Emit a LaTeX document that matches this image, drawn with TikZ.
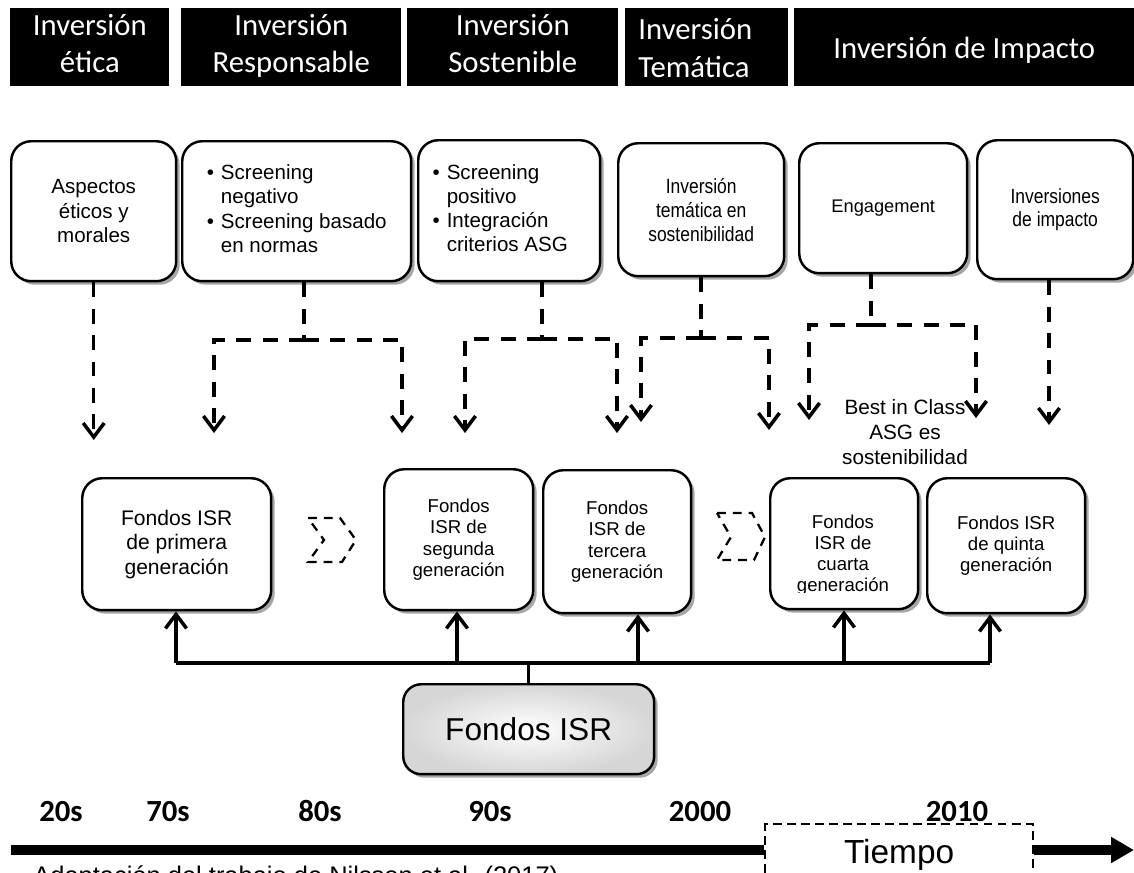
\documentclass[tikz,border=0pt]{standalone}
\usepackage{fontspec}
\setmainfont{Liberation Sans}
\newfontfamily\calib{Carlito}
\newfontfamily\condf[FakeStretch=0.85]{Liberation Sans}
\usetikzlibrary{arrows.meta,shadows}
\tikzset{
  hdr/.style={fill=black, text=white, font=\calib\fontsize{17.5}{21.5}\selectfont, align=center, anchor=north west, inner sep=0pt,
    execute at begin node={\rule{0pt}{17.5pt}}, execute at end node={\rule[-4.5pt]{0pt}{4.5pt}}},
  shd/.style={drop shadow={shadow xshift=0.07cm, shadow yshift=-0.07cm, fill=black!35, opacity=1}},
  rbox/.style={draw=black, line width=1.4pt, fill=white, rounded corners=0.4cm, anchor=north west, inner sep=0pt, align=center, shd},
  tfont/.style={font=\fontsize{11.7}{13.8}\selectfont},
  cfont/.style={font=\condf\fontsize{11.7}{13.6}\selectfont},
  fa/.style={font=\fontsize{12}{13.9}\selectfont},
  fb/.style={font=\fontsize{10.6}{12}\selectfont},
  dl/.style={line width=2pt, dash pattern=on 8.5pt off 6.5pt},
  darr/.style={dl, -{Straight Barb[length=8pt,width=12pt]}},
  sl/.style={line width=2pt},
  uarr/.style={sl, -{Straight Barb[length=8pt,width=12pt]}},
  yr/.style={font=\calib\bfseries\fontsize{17.5}{20}\selectfont, anchor=base, inner sep=0pt},
  chev/.style={line width=1.3pt, dash pattern=on 5pt off 4pt},
}
\begin{document}
\begin{tikzpicture}[x=0.02cm,y=-0.02cm]
\useasboundingbox (0,0) rectangle (1134,873);
\fill[white] (0,0) rectangle (1134,873);
% header
\node[hdr, minimum width=3.18cm, minimum height=1.56cm] (h1) at (10,8) {Inversión\\ética};
\node[hdr, minimum width=4.4cm, minimum height=1.56cm] (h2) at (181,8) {Inversión\\Responsable};
\node[hdr, minimum width=4.22cm, minimum height=1.56cm] (h3) at (407,8) {Inversión\\Sostenible};
\node[hdr, minimum height=1.56cm, inner xsep=0.26cm, text width=2.74cm, align=left] (h4) at (625,8) {Inversión\\Temática};
\node[hdr, minimum width=6.8cm, minimum height=1.56cm] (h5) at (794,8) {Inversión de Impacto};
% top boxes
\node[rbox, tfont, minimum width=3.3cm, minimum height=2.8cm] (t1) at (10,140) {Aspectos\\éticos y\\morales};
\node[rbox, tfont, minimum width=4.58cm, minimum height=2.8cm] (t2) at (181,140)
 {\begin{tabular}{@{}l@{\hspace{0.14cm}}l@{}}\textbullet & Screening\\ & negativo\\ \textbullet & Screening basado\\ & en normas\end{tabular}};
\node[rbox, tfont, minimum width=3.64cm, minimum height=2.82cm] (t3) at (417,139)
 {\begin{tabular}{@{}l@{\hspace{0.14cm}}l@{}}\textbullet & Screening\\ & positivo\\ \textbullet & Integración\\ & criterios ASG\end{tabular}\hspace*{0.36cm}};
\node[rbox, cfont, minimum width=3.32cm, minimum height=2.66cm] (t4) at (617,142) {Inversión\\temática en\\sostenibilidad};
\node[rbox, font=\fontsize{10.4}{12}\selectfont, minimum width=3.36cm, minimum height=2.6cm] (t5) at (798,142) {Engagement};
\node[rbox, cfont, minimum width=3.12cm, minimum height=2.78cm] (t6) at (976,139) {Inversiones\\de impacto};
% dashed connectors
\coordinate (a1) at (93,440);
\draw[darr] (t1.south) -- (t1.south |- a1);
\coordinate (j2) at (304,340); \coordinate (a2l) at (214,433); \coordinate (a2r) at (402,433);
\draw[dl] (t2.south -| j2) -- (j2);
\draw[darr] (j2) -| (a2l);
\draw[darr] (j2) -| (a2r);
\coordinate (j3) at (542,339); \coordinate (a3l) at (465,433); \coordinate (a3r) at (617,433);
\draw[dl] (t3.south -| j3) -- (j3);
\draw[darr] (j3) -| (a3l);
\draw[darr] (j3) -| (a3r);
\coordinate (j4) at (701,338); \coordinate (a4l) at (641,422); \coordinate (a4r) at (769,430);
\draw[dl] (t4.south -| j4) -- (j4);
\draw[darr] (j4) -| (a4l);
\draw[darr] (j4) -| (a4r);
\coordinate (j5) at (871,325); \coordinate (a5l) at (809,420); \coordinate (a5r) at (976,418);
\draw[dl] (t5.south -| j5) -- (j5);
\draw[darr] (j5) -| (a5l);
\draw[darr] (j5) -| (a5r);
\coordinate (a6) at (1049,425);
\draw[darr] (t6.south -| a6) -- (a6);
\node[font=\fontsize{11.8}{14.2}\selectfont, align=center, inner sep=0pt] (bic) at (905,432) {Best in Class\\ASG es\\sostenibilidad};
% fondos boxes
\node[rbox, fa, minimum width=3.78cm, minimum height=2.64cm] (f1) at (81,477) {Fondos ISR\\de primera\\generación};
\node[rbox, fb, minimum width=2.98cm, minimum height=2.82cm] (f2) at (383,468) {Fondos\\ISR de\\segunda\\generación};
\node[rbox, fb, minimum width=2.96cm, minimum height=2.86cm] (f3) at (542,469) {Fondos\\ISR de\\tercera\\generación};
\node[rbox, fb, minimum width=2.96cm, minimum height=2.62cm] (f4) at (769,477) {};
\begin{scope}
\clip (769,477) rectangle (917,592);
\node[fb, align=center, inner sep=0pt] (f4t) at (843,555) {Fondos\\ISR de\\cuarta\\generación};
\end{scope}
\node[rbox, fb, minimum width=3.16cm, minimum height=2.7cm] (f5) at (926,477) {Fondos ISR\\de quinta\\generación};
% chevrons
\draw[chev] (308,518) -- (340,518) -- (356,540) -- (342,562) -- (308,562) -- (324,540) -- cycle;
\draw[chev] (717,513) -- (752,513) -- (765,537) -- (754,560) -- (717,560) -- (731,537) -- cycle;
% fondos ISR
\node[rbox, rounded corners=0.36cm, inner color=white, outer color=black!16, font=\fontsize{18}{20}\selectfont, minimum width=5.02cm, minimum height=1.8cm] (isr) at (402,683) {Fondos ISR};
\coordinate (b1) at (176,663); \coordinate (b2) at (457,663); \coordinate (b3) at (638,663);
\coordinate (b4) at (844,663); \coordinate (b5) at (990,663);
\draw[sl] (b1) -- (b5);
\draw[sl] (isr.north) -- (isr.north |- b1);
\draw[uarr] (b1) -- (f1.south -| b1);
\draw[uarr] (b2) -- (f2.south -| b2);
\draw[uarr] (b3) -- (f3.south -| b3);
\draw[uarr] (b4) -- (f4.south -| b4);
\draw[uarr] (b5) -- (f5.south -| b5);
% years
\node[yr] (y20) at (61,821) {20s};
\node[yr] (y70) at (168,821) {70s};
\node[yr] (y80) at (320,821) {80s};
\node[yr] (y90) at (490,821) {90s};
\node[yr] (y00) at (700,821) {2000};
\node[yr] (y10) at (957,821) {2010};
% timeline
\node[draw, line width=1.3pt, dash pattern=on 5pt off 3pt, anchor=north west, minimum width=5.36cm, inner sep=0pt, text height=0.78cm, text depth=1.2cm, font=\fontsize{19}{22}\selectfont] (tiempo) at (764,823) {Tiempo};
\coordinate (tl0) at (11,850); \coordinate (tl1) at (1134,850);
\draw[line width=5.7pt] (tl0) -- (tiempo.west |- tl0);
\draw[line width=5.7pt, -{Triangle[length=13pt,width=14pt]}] (tiempo.east |- tl0) -- (tl1);
\node[anchor=base west, font=\fontsize{14.5}{16}\selectfont, inner sep=0pt] (src) at (33,884) {Adaptación del trabajo de Nilsson et al. (2017)};
\end{tikzpicture}
\end{document}
